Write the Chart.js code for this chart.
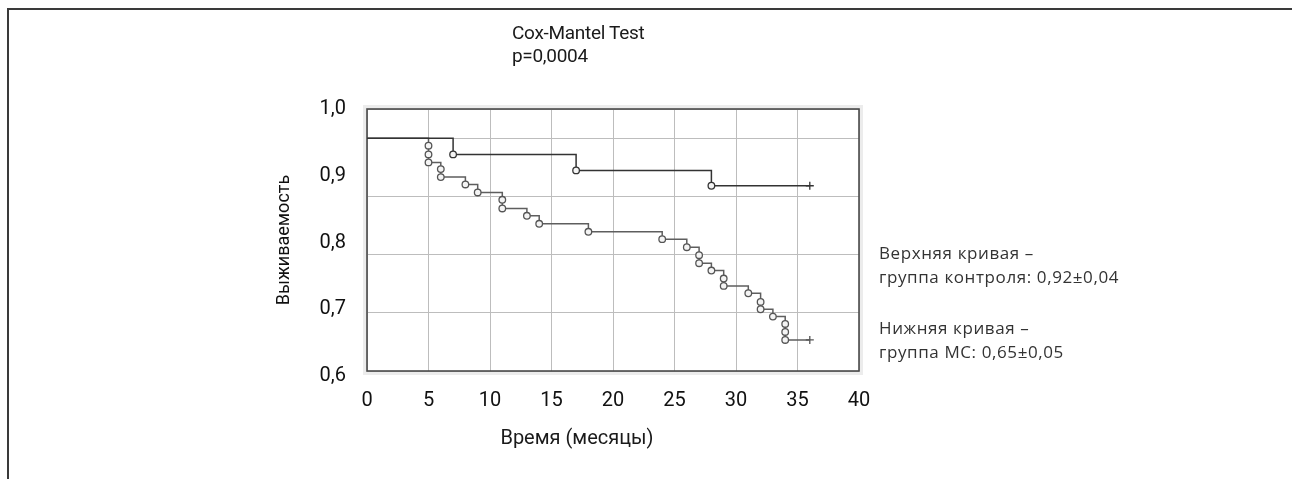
<!DOCTYPE html>
<html lang="ru">
<head>
<meta charset="utf-8">
<title>Выживаемость</title>
<script src="https://cdn.jsdelivr.net/npm/chart.js@4.4.1/dist/chart.umd.min.js"></script>
<style>
    html, body {
        margin: 0;
        padding: 0;
        background: #fff;
    }
    body {
        position: relative;
        width: 1292px;
        height: 479px;
        overflow: hidden;
        font-family: Roboto, 'Noto Sans', sans-serif;
        color: #1a1a1a;
    }
    .frame {
        position: absolute;
        left: 7px;
        top: 8px;
        width: 1300px;
        height: 500px;
        border-top: 2px solid #3a3a3a;
        border-left: 2px solid #3a3a3a;
    }
    #km {
        position: absolute;
        left: 0;
        top: 0;
    }
    .title {
        position: absolute;
        left: 512px;
        top: 21px;
        font-size: 19px;
        line-height: 23px;
        letter-spacing: -0.3px;
    }
    .xtitle {
        position: absolute;
        left: 577px;
        top: 424px;
        transform: translateX(-50%);
        font-size: 20px;
        line-height: 26px;
        white-space: nowrap;
    }
    .note {
        position: absolute;
        left: 879px;
        font-family: 'Open Sans', 'Noto Sans', sans-serif;
        font-size: 17px;
        line-height: 24px;
        letter-spacing: 0.6px;
        color: #333;
        white-space: nowrap;
    }
</style>
</head>
<body>
<div class="frame"></div>
<canvas id="km" width="1292" height="479"></canvas>
<div class="title">Cox-Mantel Test<br>p=0,0004</div>
<div class="xtitle">Время (месяцы)</div>
<div class="note" style="top:241px">Верхняя кривая –<br>группа контроля: 0,92±0,04</div>
<div class="note" style="top:316px">Нижняя кривая –<br>группа МС: 0,65±0,05</div>
<script>
// survival: time in months, cumulative proportion surviving
const upperTime = [0, 7, 17, 28, 36];
const upperSurv = [0.956, 0.932, 0.908, 0.885, 0.885];

const lowerTime = [0, 5, 5, 5, 6, 6, 8, 9, 11, 11, 13, 14, 18, 24, 26, 27, 27, 28, 29, 29, 31, 32, 32, 33, 34, 34, 34, 36];
const lowerSurv = [0.956, 0.945, 0.932, 0.920, 0.910, 0.898, 0.887, 0.875, 0.864, 0.851, 0.840, 0.828, 0.816,
    0.805, 0.793, 0.781, 0.769, 0.758, 0.746, 0.735, 0.724, 0.711, 0.700, 0.689, 0.678, 0.666, 0.654, 0.654];

const xTicks = [0, 5, 10, 15, 20, 25, 30, 35, 40];
const yTicks = [1.0, 0.9, 0.8, 0.7, 0.6];

const toPoints = (times, values) => times.map((t, i) => ({ x: t, y: values[i] }));

// first point is the start of the curve, last one is the censored end (+)
const markerStyle = (ctx) => {
    const n = ctx.dataset.data.length;
    return ctx.dataIndex === n - 1 ? 'cross' : 'circle';
};
const markerRadius = (ctx) => {
    if (ctx.dataIndex === 0) {
        return 0;
    }
    return ctx.dataIndex === ctx.dataset.data.length - 1 ? 4 : 3.3;
};

const plotFrame = {
    id: 'plotFrame',
    beforeDraw(chart) {
        const { ctx, chartArea: a } = chart;
        ctx.save();
        ctx.fillStyle = '#ececec';
        ctx.fillRect(a.left - 4, a.top - 4, a.right - a.left + 8, a.bottom - a.top + 8);
        ctx.fillStyle = '#ffffff';
        ctx.fillRect(a.left, a.top, a.right - a.left, a.bottom - a.top);
        ctx.restore();
    },
    beforeDatasetsDraw(chart) {
        const { ctx, chartArea: a } = chart;
        ctx.save();
        ctx.strokeStyle = '#4a4a4a';
        ctx.lineWidth = 1.6;
        ctx.strokeRect(a.left, a.top, a.right - a.left, a.bottom - a.top);
        ctx.restore();
    },
};

const lineDefaults = {
    stepped: true,
    tension: 0,
    borderWidth: 1.5,
    fill: false,
    pointStyle: markerStyle,
    pointRadius: markerRadius,
    pointBackgroundColor: '#f4f4f4',
    pointBorderWidth: 1.3,
    pointHoverRadius: 0,
};

new Chart(document.getElementById('km'), {
    type: 'line',
    data: {
        datasets: [
            {
                ...lineDefaults,
                label: 'Верхняя кривая',
                data: toPoints(upperTime, upperSurv),
                borderColor: '#333333',
                pointBorderColor: '#333333',
            },
            {
                ...lineDefaults,
                label: 'Нижняя кривая',
                data: toPoints(lowerTime, lowerSurv),
                borderColor: '#5e5e5e',
                pointBorderColor: '#555555',
            },
        ],
    },
    options: {
        responsive: false,
        animation: false,
        devicePixelRatio: 1,
        events: [],
        layout: {
            padding: { left: 270, right: 433, top: 109, bottom: 0 },
        },
        plugins: {
            legend: { display: false },
            tooltip: { enabled: false },
        },
        scales: {
            x: {
                type: 'linear',
                min: 0,
                max: 40,
                afterBuildTicks: (scale) => {
                    scale.ticks = xTicks.map((value) => ({ value }));
                },
                afterFit: (scale) => {
                    scale.height = 108;
                },
                ticks: {
                    color: '#111',
                    padding: 18,
                    font: { family: 'Roboto', size: 20 },
                },
                grid: {
                    color: '#bdbdbd',
                    lineWidth: 1,
                    drawTicks: false,
                },
                border: { display: false },
            },
            y: {
                type: 'linear',
                position: 'left',
                min: 0.6075,
                max: 1.0,
                afterBuildTicks: (scale) => {
                    scale.ticks = yTicks.map((value) => ({ value }));
                },
                afterFit: (scale) => {
                    scale.width = 97;
                },
                ticks: {
                    color: '#111',
                    padding: 21,
                    font: { family: 'Roboto', size: 20 },
                    callback: (value) => Number(value).toFixed(1).replace('.', ','),
                },
                grid: { display: false, drawTicks: false },
                border: { display: false },
                title: {
                    display: true,
                    text: 'Выживаемость',
                    color: '#111',
                    padding: { top: 4, bottom: 0 },
                    font: { family: 'Roboto', size: 18 },
                },
            },
            // the plot's horizontal grid follows its own spacing, not the tick labels
            grid: {
                type: 'linear',
                position: 'left',
                min: 0,
                max: 4.5,
                ticks: { display: false, stepSize: 1 },
                afterFit: (scale) => {
                    scale.width = 0;
                },
                grid: {
                    color: '#bdbdbd',
                    lineWidth: 1,
                    drawTicks: false,
                },
                border: { display: false },
            },
        },
    },
    plugins: [plotFrame],
});
</script>
</body>
</html>
